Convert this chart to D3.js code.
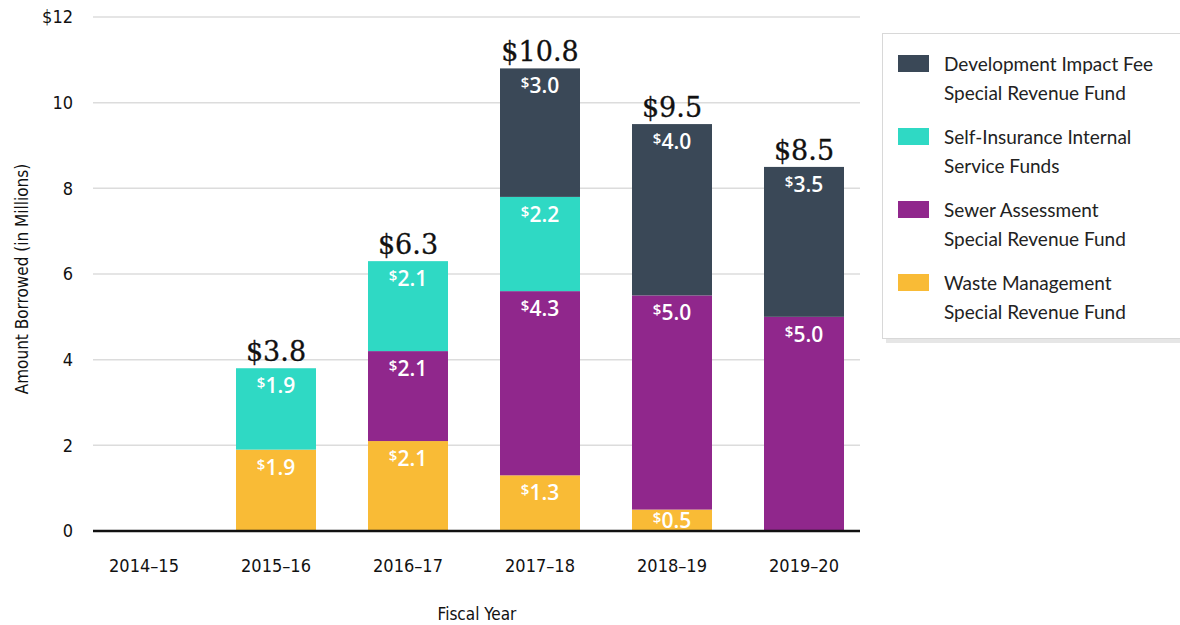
<!DOCTYPE html>
<html>
<head>
<meta charset="utf-8">
<script src="https://cdn.jsdelivr.net/npm/d3@7"></script>
<style>
  body { margin: 0; background: #fff; }
  svg { display: block; }
</style>
</head>
<body>
<div id="chart"></div>
<script>
// Data
const years = ["2014\u201315", "2015\u201316", "2016\u201317", "2017\u201318", "2018\u201319", "2019\u201320"];
const wasteMgmt = [0, 1.9, 2.1, 1.3, 0.5, 0];
const sewer = [0, 0, 2.1, 4.3, 5.0, 5.0];
const selfIns = [0, 1.9, 2.1, 2.2, 0, 0];
const devFee = [0, 0, 0, 3.0, 4.0, 3.5];
const totals = [null, 3.8, 6.3, 10.8, 9.5, 8.5];
const yTicks = [0, 2, 4, 6, 8, 10, 12];

const seriesNames = ["Waste Management", "Sewer Assessment", "Self-Insurance", "Development Impact Fee"];
const seriesValues = [wasteMgmt, sewer, selfIns, devFee];
const colors = ["#f9bb36", "#90278c", "#2fd9c4", "#3a4857"];

const legendLines = [
  ["Development Impact Fee", "Special Revenue Fund"],
  ["Self-Insurance Internal", "Service Funds"],
  ["Sewer Assessment", "Special Revenue Fund"],
  ["Waste Management", "Special Revenue Fund"]
];
const legendColors = ["#3a4857", "#2fd9c4", "#90278c", "#f9bb36"];

// Dimensions
const width = 1180, height = 625;
const axisFont = "'DejaVu Sans Condensed', 'Liberation Sans Narrow', sans-serif";

const svg = d3.select("#chart").append("svg")
  .attr("width", width)
  .attr("height", height);

const x = d3.scaleBand()
  .domain(years)
  .range([78, 870])
  .paddingInner(0.394)
  .paddingOuter(0.197);

const y = d3.scaleLinear()
  .domain([0, 12])
  .range([531, 17]);

// Gridlines
svg.append("g")
  .selectAll("line")
  .data(yTicks.filter(d => d > 0)).enter()
  .append("line")
  .attr("x1", 93).attr("x2", 860)
  .attr("y1", d => y(d)).attr("y2", d => y(d))
  .attr("stroke", "#dcdcdc")
  .attr("stroke-width", 1.5);

// Y axis labels
const yAxis = svg.append("g")
  .attr("transform", "translate(93,0)")
  .call(d3.axisLeft(y).tickValues(yTicks).tickSize(0).tickPadding(20)
    .tickFormat(d => d === 12 ? "$12" : d));
yAxis.select(".domain").remove();
yAxis.selectAll("text")
  .attr("font-family", axisFont)
  .attr("font-size", 18)
  .attr("fill", "#111");

// Stacked bars
const table = years.map((yr, i) => {
  const row = { year: yr };
  seriesNames.forEach((s, j) => row[s] = seriesValues[j][i]);
  return row;
});
const stack = d3.stack().keys(seriesNames)(table);

const layers = svg.append("g")
  .selectAll("g")
  .data(stack).enter()
  .append("g")
  .attr("fill", (d, i) => colors[i]);

layers.selectAll("rect")
  .data(d => d).enter()
  .append("rect")
  .attr("x", d => x(d.data.year))
  .attr("y", d => y(d[1]))
  .attr("width", x.bandwidth())
  .attr("height", d => y(d[0]) - y(d[1]));

// Segment labels
const segLabels = layers.selectAll("text")
  .data(d => d.filter(s => s[1] - s[0] > 0)).enter()
  .append("text")
  .attr("x", d => x(d.data.year) + x.bandwidth() / 2)
  .attr("y", d => Math.min(y(d[1]) + 25, y(d[0]) - 3))
  .attr("text-anchor", "middle")
  .attr("fill", "#fff")
  .attr("font-family", "'Open Sans', sans-serif")
  .attr("font-weight", 600)
  .attr("font-size", 21);
segLabels.append("tspan")
  .attr("font-size", 15)
  .attr("dy", -5)
  .text("$");
segLabels.append("tspan")
  .attr("dy", 5)
  .text(d => (d[1] - d[0]).toFixed(1));

// Total labels
svg.append("g")
  .selectAll("text")
  .data(years.map((yr, i) => ({ year: yr, total: totals[i] })).filter(d => d.total)).enter()
  .append("text")
  .attr("x", d => x(d.year) + x.bandwidth() / 2)
  .attr("y", d => y(d.total) - 7)
  .attr("text-anchor", "middle")
  .attr("font-family", "'DejaVu Serif', serif")
  .attr("font-size", 27)
  .attr("fill", "#111")
  .attr("stroke", "#111")
  .attr("stroke-width", 0.3)
  .text(d => "$" + d.total.toFixed(1));

// Baseline
svg.append("line")
  .attr("x1", 93).attr("x2", 860)
  .attr("y1", y(0)).attr("y2", y(0))
  .attr("stroke", "#111")
  .attr("stroke-width", 2.5);

// X axis labels
const xAxis = svg.append("g")
  .attr("transform", "translate(0," + y(0) + ")")
  .call(d3.axisBottom(x).tickSize(0).tickPadding(28));
xAxis.select(".domain").remove();
xAxis.selectAll("text")
  .attr("font-family", axisFont)
  .attr("font-size", 18)
  .attr("fill", "#111");

// Axis titles
svg.append("text")
  .attr("x", 477).attr("y", 620)
  .attr("text-anchor", "middle")
  .attr("font-family", axisFont)
  .attr("font-size", 17)
  .attr("fill", "#111")
  .text("Fiscal Year");

svg.append("text")
  .attr("transform", "translate(28,279) rotate(-90)")
  .attr("text-anchor", "middle")
  .attr("font-family", axisFont)
  .attr("font-size", 17)
  .attr("fill", "#111")
  .text("Amount Borrowed (in Millions)");

// Legend
const legend = svg.append("g");
legend.append("rect")
  .attr("x", 886).attr("y", 37)
  .attr("width", 300).attr("height", 306)
  .attr("fill", "#e6e6e6");
legend.append("rect")
  .attr("x", 882.5).attr("y", 33.5)
  .attr("width", 300).attr("height", 305)
  .attr("fill", "#fff")
  .attr("stroke", "#d8d8d8");

const items = legend.selectAll("g.item")
  .data(legendLines).enter()
  .append("g")
  .attr("transform", (d, i) => "translate(898," + (55 + i * 73) + ")");
items.append("rect")
  .attr("width", 31).attr("height", 17)
  .attr("fill", (d, i) => legendColors[i]);
items.append("text")
  .attr("font-family", "Lato, sans-serif")
  .attr("font-size", 19)
  .attr("fill", "#222")
  .selectAll("tspan")
  .data(d => d).enter()
  .append("tspan")
  .attr("x", 46)
  .attr("y", (d, i) => 16 + i * 29)
  .text(d => d);
</script>
</body>
</html>
